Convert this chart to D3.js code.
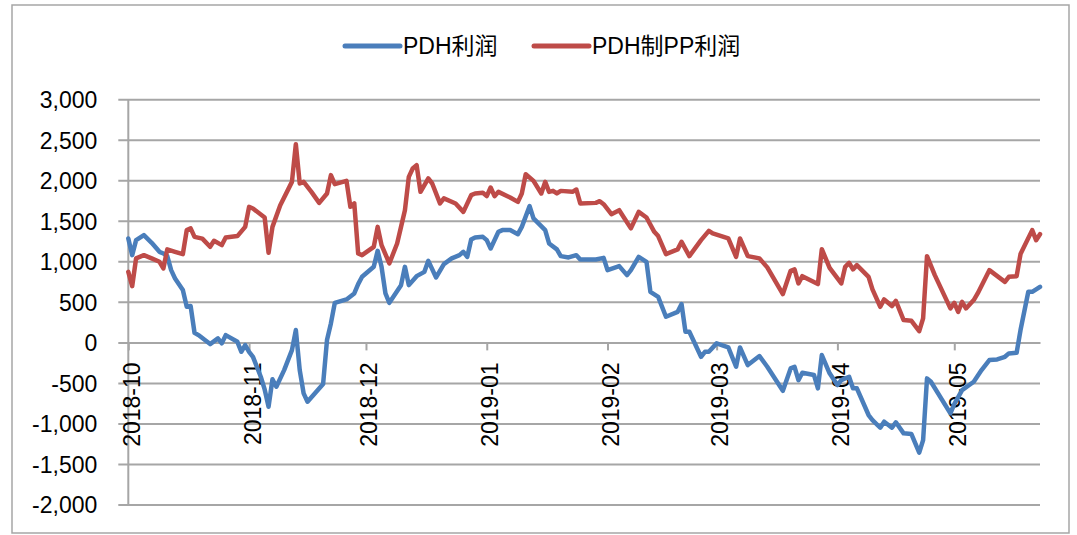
<!DOCTYPE html>
<html>
<head>
<meta charset="utf-8">
<script src="https://cdn.jsdelivr.net/npm/d3@7"></script>
<style>
  body { margin: 0; background: #fff; }
  text { font-family: "Liberation Sans", Arial, "Noto Sans CJK SC", sans-serif; fill: #000; }
</style>
</head>
<body>
<div id="chart"></div>
<script>
// series names
let seriesNames = ["PDH利润", "PDH制PP利润"]

// PDH利润 (blue)
let pdhDates = ["2018-10-01","2018-10-02","2018-10-03","2018-10-05","2018-10-07","2018-10-09","2018-10-10","2018-10-11","2018-10-12","2018-10-13",
  "2018-10-15","2018-10-16","2018-10-17","2018-10-18","2018-10-19","2018-10-22","2018-10-24","2018-10-25","2018-10-26","2018-10-29",
  "2018-10-30","2018-10-31","2018-11-01","2018-11-02","2018-11-04","2018-11-05","2018-11-06","2018-11-07","2018-11-08","2018-11-10",
  "2018-11-12","2018-11-13","2018-11-14","2018-11-15","2018-11-16","2018-11-20","2018-11-21","2018-11-22","2018-11-23","2018-11-26",
  "2018-11-28","2018-11-29","2018-11-30","2018-12-03","2018-12-04","2018-12-05","2018-12-06","2018-12-07","2018-12-10","2018-12-11",
  "2018-12-12","2018-12-14","2018-12-16","2018-12-17","2018-12-19","2018-12-21","2018-12-23","2018-12-25","2018-12-26","2018-12-27",
  "2018-12-28","2018-12-29","2018-12-31","2019-01-01","2019-01-02","2019-01-04","2019-01-05","2019-01-07","2019-01-09","2019-01-10",
  "2019-01-12","2019-01-13","2019-01-16","2019-01-17","2019-01-19","2019-01-20","2019-01-22","2019-01-24","2019-01-25","2019-01-29",
  "2019-01-31","2019-02-01","2019-02-04","2019-02-06","2019-02-07","2019-02-09","2019-02-11","2019-02-12","2019-02-14","2019-02-16",
  "2019-02-19","2019-02-20","2019-02-21","2019-02-22","2019-02-25","2019-02-26","2019-02-27","2019-03-01","2019-03-04","2019-03-06",
  "2019-03-07","2019-03-09","2019-03-12","2019-03-14","2019-03-18","2019-03-20","2019-03-21","2019-03-22","2019-03-23","2019-03-26",
  "2019-03-27","2019-03-28","2019-03-30","2019-04-01","2019-04-02","2019-04-04","2019-04-05","2019-04-06","2019-04-09","2019-04-10",
  "2019-04-12","2019-04-13","2019-04-15","2019-04-16","2019-04-18","2019-04-20","2019-04-22","2019-04-23","2019-04-24","2019-04-25",
  "2019-04-30","2019-05-01","2019-05-03","2019-05-06","2019-05-08","2019-05-10","2019-05-12","2019-05-14","2019-05-15","2019-05-17",
  "2019-05-18","2019-05-20","2019-05-21","2019-05-23"]
let pdhValues = [1282,1076,1261,1323,1228,1117,1097,1064,891,789,
  645,439,448,118,90,-21,49,-12,90,7,
  -116,-33,-116,-178,-424,-580,-794,-456,-547,-342,
  -95,152,-342,-629,-732,-514,28,234,488,530,
  604,719,809,932,1129,932,604,488,706,932,
  706,817,870,1006,801,965,1036,1076,1117,1055,
  1270,1295,1302,1261,1159,1364,1385,1385,1335,1425,
  1681,1529,1385,1220,1147,1064,1048,1076,1023,1023,
  1043,891,941,830,891,1055,994,624,562,316,
  377,472,131,131,-178,-116,-116,-12,-62,-301,
  -62,-280,-169,-301,-597,-321,-301,-465,-375,-403,
  -567,-157,-382,-527,-465,-424,-567,-567,-896,-958,
  -1053,-979,-1053,-986,-1122,-1131,-1361,-1205,-444,-486,
  -875,-761,-588,-486,-342,-218,-210,-178,-136,-128,
  152,624,624,686]

// PDH制PP利润 (red)
let ppDates = ["2018-10-01","2018-10-02","2018-10-03","2018-10-05","2018-10-07","2018-10-09","2018-10-10","2018-10-11","2018-10-13","2018-10-15",
  "2018-10-16","2018-10-17","2018-10-18","2018-10-20","2018-10-22","2018-10-23","2018-10-25","2018-10-26","2018-10-29","2018-10-31",
  "2018-11-01","2018-11-02","2018-11-05","2018-11-06","2018-11-07","2018-11-09","2018-11-12","2018-11-13","2018-11-14","2018-11-15",
  "2018-11-17","2018-11-19","2018-11-21","2018-11-22","2018-11-23","2018-11-26","2018-11-27","2018-11-28","2018-11-29","2018-11-30",
  "2018-12-03","2018-12-04","2018-12-05","2018-12-07","2018-12-09","2018-12-10","2018-12-11","2018-12-12","2018-12-13","2018-12-14",
  "2018-12-15","2018-12-17","2018-12-18","2018-12-20","2018-12-21","2018-12-24","2018-12-26","2018-12-28","2018-12-29","2018-12-31",
  "2019-01-01","2019-01-02","2019-01-03","2019-01-04","2019-01-07","2019-01-09","2019-01-10","2019-01-11","2019-01-13","2019-01-15",
  "2019-01-16","2019-01-17","2019-01-18","2019-01-19","2019-01-20","2019-01-23","2019-01-24","2019-01-25","2019-01-29","2019-01-30",
  "2019-01-31","2019-02-02","2019-02-04","2019-02-07","2019-02-09","2019-02-11","2019-02-13","2019-02-14","2019-02-16","2019-02-19",
  "2019-02-20","2019-02-22","2019-02-25","2019-02-27","2019-02-28","2019-03-04","2019-03-06","2019-03-07","2019-03-09","2019-03-12",
  "2019-03-14","2019-03-18","2019-03-20","2019-03-21","2019-03-22","2019-03-23","2019-03-27","2019-03-28","2019-03-30","2019-04-02",
  "2019-04-03","2019-04-04","2019-04-05","2019-04-06","2019-04-09","2019-04-10","2019-04-12","2019-04-13","2019-04-15","2019-04-16",
  "2019-04-18","2019-04-20","2019-04-22","2019-04-23","2019-04-24","2019-04-26","2019-04-30","2019-05-01","2019-05-02","2019-05-03",
  "2019-05-04","2019-05-06","2019-05-07","2019-05-10","2019-05-14","2019-05-15","2019-05-17","2019-05-18","2019-05-21","2019-05-22",
  "2019-05-23"]
let ppValues = [870,694,1036,1076,1036,994,912,1147,1117,1089,
  1385,1406,1302,1280,1179,1253,1200,1295,1311,1425,
  1672,1652,1541,1105,1425,1693,1980,2445,1960,1980,
  1857,1721,1837,2063,1952,1992,1672,1715,1097,1076,
  1179,1425,1200,974,1220,1425,1631,2042,2145,2186,
  1857,2022,1960,1714,1776,1714,1610,1816,1837,1845,
  1804,1911,1804,1857,1788,1733,1837,2075,1992,1837,
  1980,1857,1869,1837,1869,1857,1886,1714,1721,1742,
  1705,1582,1631,1406,1610,1541,1364,1311,1089,1147,
  1240,1064,1261,1376,1344,1282,1055,1282,1064,1036,
  925,596,883,900,727,817,719,1150,920,727,
  932,981,900,953,809,653,439,530,448,513,
  275,266,139,296,1064,830,419,488,377,501,
  419,522,604,891,747,809,817,1089,1385,1261,
  1335]

// axis ticks
let yTicks = [-2000,-1500,-1000,-500,0,500,1000,1500,2000,2500,3000]
let xTickLabels = ["2018-10","2018-11","2018-12","2019-01","2019-02","2019-03","2019-04","2019-05"]
let xStart = "2018-10-01"
let xEnd = "2019-05-23"

let colors = ["#4a7ebb", "#be4b48"]

let width = 1077
let height = 535
let plotLeft = 128.3
let plotRight = 1040
let plotTop = 99.2
let plotBottom = 504.5
let gridColor = "#a6a6a6"

let parseDay = d3.timeParse("%Y-%m-%d")
let parseMonth = d3.timeParse("%Y-%m")

// plain hyphen for negatives, like the spreadsheet
let numberFormat = d3.formatLocale({
  decimal: ".", thousands: ",", grouping: [3], currency: ["", ""], minus: "-"
}).format(",")

let svg = d3.select("#chart")
  .append("svg")
  .attr("width", width)
  .attr("height", height)

svg.append("rect")
  .attr("x", 0).attr("y", 0)
  .attr("width", width).attr("height", height)
  .attr("fill", "#fff")

// outer border
svg.append("rect")
  .attr("x", 12).attr("y", 5)
  .attr("width", 1057).attr("height", 528)
  .attr("fill", "none")
  .attr("stroke", "#a6a6a6")
  .attr("stroke-width", 1.5)

let xScale = d3.scaleTime()
  .domain([parseDay(xStart), parseDay(xEnd)])
  .range([plotLeft, plotRight])

let yScale = d3.scaleLinear()
  .domain([-2000, 3000])
  .range([plotBottom, plotTop])

// y axis with gridlines
let yAxis = d3.axisLeft(yScale)
  .tickValues(yTicks)
  .tickSize(-(plotRight - plotLeft))
  .tickSizeOuter(0)
  .tickFormat(numberFormat)

let yAxisG = svg.append("g")
  .attr("class", "yAxis")
  .attr("transform", `translate(${plotLeft}, 0)`)
  .call(yAxis)

yAxisG.select(".domain").remove()
yAxisG.selectAll(".tick line")
  .attr("x1", -10)
  .attr("stroke", gridColor)
  .attr("stroke-width", 2)
yAxisG.selectAll(".tick text")
  .attr("x", -31)
  .attr("dy", "0.36em")
  .attr("font-size", 23)
  .attr("text-anchor", "end")

// vertical axis line
svg.append("line")
  .attr("x1", plotLeft).attr("x2", plotLeft)
  .attr("y1", plotTop).attr("y2", plotBottom)
  .attr("stroke", gridColor)
  .attr("stroke-width", 2)

// x axis on the zero line
let xAxis = d3.axisBottom(xScale)
  .tickValues(xTickLabels.map(parseMonth))
  .tickSize(8)
  .tickSizeOuter(0)
  .tickFormat(d3.timeFormat("%Y-%m"))

let xAxisG = svg.append("g")
  .attr("class", "xAxis")
  .attr("transform", `translate(0, ${yScale(0)})`)
  .call(xAxis)

xAxisG.select(".domain")
  .attr("stroke", gridColor)
  .attr("stroke-width", 2)
xAxisG.selectAll(".tick line")
  .attr("stroke", gridColor)
  .attr("stroke-width", 2)
xAxisG.selectAll(".tick text")
  .attr("font-size", 23)
  .attr("text-anchor", "end")
  .attr("dy", null)
  .attr("y", 0)
  .attr("dominant-baseline", "central")
  .attr("transform", "translate(3, 20) rotate(-90)")

// series lines
let series = [
  { name: seriesNames[0], dates: pdhDates, values: pdhValues, color: colors[0] },
  { name: seriesNames[1], dates: ppDates, values: ppValues, color: colors[1] }
]

let line = d3.line()
  .x(function(d){ return xScale(d.date) })
  .y(function(d){ return yScale(d.value) })

series.forEach(function(s){
  let points = s.dates.map(function(d, i){
    return { date: parseDay(d), value: s.values[i] }
  })
  svg.append("path")
    .datum(points)
    .attr("fill", "none")
    .attr("stroke", s.color)
    .attr("stroke-width", 4.5)
    .attr("stroke-linejoin", "round")
    .attr("stroke-linecap", "round")
    .attr("d", line)
})

// legend
let legendItems = [
  { x: 345, name: seriesNames[0], color: colors[0] },
  { x: 534, name: seriesNames[1], color: colors[1] }
]

let legend = svg.append("g").attr("class", "legend")
legendItems.forEach(function(item){
  legend.append("line")
    .attr("x1", item.x).attr("x2", item.x + 55)
    .attr("y1", 46).attr("y2", 46)
    .attr("stroke", item.color)
    .attr("stroke-width", 5)
    .attr("stroke-linecap", "round")
  legend.append("text")
    .attr("x", item.x + 58)
    .attr("y", 46)
    .attr("dy", "0.36em")
    .attr("font-size", 23)
    .text(item.name)
})
</script>
</body>
</html>
